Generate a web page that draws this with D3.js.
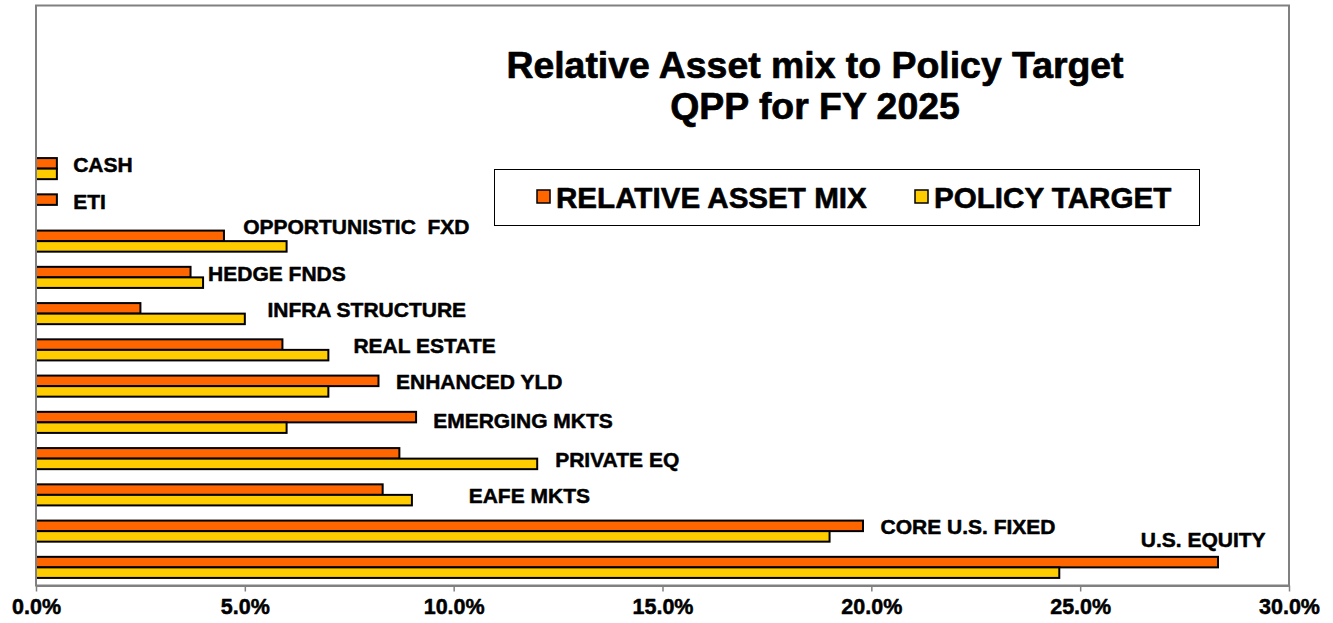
<!DOCTYPE html>
<html>
<head>
<meta charset="utf-8">
<script src="https://cdn.jsdelivr.net/npm/d3@7"></script>
<style>
  html, body { margin: 0; padding: 0; background: #fff; }
  svg { display: block; font-family: "Liberation Sans", Arial, sans-serif; font-weight: bold; }
  .heavy { stroke: #000; stroke-linejoin: round; paint-order: stroke; }
</style>
</head>
<body>
<svg id="chart" width="1333" height="623"></svg>
<script>
// Asset classes, bottom to top
const categories = ["U.S. EQUITY", "CORE U.S. FIXED", "EAFE MKTS", "PRIVATE EQ", "EMERGING MKTS",
  "ENHANCED YLD", "REAL ESTATE", "INFRA STRUCTURE", "HEDGE FNDS", "OPPORTUNISTIC  FXD", "ETI", "CASH"];
// Percent of fund
const relativeMix  = [28.3, 19.8, 8.3, 8.7, 9.1, 8.2, 5.9, 2.5, 3.7, 4.5, 0.5, 0.5];
const policyTarget = [24.5, 19.0, 9.0, 12.0, 6.0, 7.0, 7.0, 5.0, 4.0, 6.0, 0.0, 0.5];
const seriesNames  = ["RELATIVE ASSET MIX", "POLICY TARGET"];
const xTicks = [0, 5, 10, 15, 20, 25, 30];
const titleLines = ["Relative Asset mix to Policy Target", "QPP for FY 2025"];

// Category label placement: x in percent units, vertical nudge in px
const labelAt = [26.45, 20.22, 10.36, 12.43, 9.51, 8.62, 7.60, 5.54, 4.12, 4.96, 0.89, 0.89];
const labelDy = [-28, -4.4, 0.9, 0.4, -1.9, -4.9, -4.1, -4.4, -3.7, -14.4, -3.6, -4.1];

const colors = { "RELATIVE ASSET MIX": "#FF6600", "POLICY TARGET": "#FFCC00" };

const svg = d3.select("#chart");
const plot = { left: 36, right: 1289, top: 5.5, bottom: 585.5 };
const slotCount = 16; // category axis has room for 16 slots; the top ones stay empty

const x = d3.scaleLinear().domain([0, 30]).range([plot.left, plot.right]);
const step = (plot.bottom - plot.top) / slotCount;
const y = d3.scaleBand()
  .domain(categories)
  .range([plot.bottom, plot.bottom - step * categories.length])
  .padding(0);
const ySub = d3.scaleBand()
  .domain(seriesNames)
  .range([0, y.bandwidth()])
  .paddingInner(0)
  .paddingOuter(0.72);

const rows = categories.map((c, i) => ({
  cat: c,
  values: [
    { series: seriesNames[0], value: relativeMix[i] },
    { series: seriesNames[1], value: policyTarget[i] }
  ],
  labelAt: labelAt[i],
  labelDy: labelDy[i]
}));

// Plot area frame
svg.append("rect")
  .attr("x", plot.left).attr("y", plot.top)
  .attr("width", plot.right - plot.left).attr("height", plot.bottom - plot.top)
  .attr("fill", "none").attr("stroke", "#808080").attr("stroke-width", 2);

// Bars
const groups = svg.append("g").selectAll("g")
  .data(rows).join("g")
  .attr("transform", d => `translate(0,${y(d.cat)})`);

groups.selectAll("rect")
  .data(d => d.values.filter(v => v.value > 0))
  .join("rect")
  .attr("x", x(0))
  .attr("y", v => ySub(v.series))
  .attr("width", v => x(v.value) - x(0))
  .attr("height", ySub.bandwidth())
  .attr("fill", v => colors[v.series])
  .attr("stroke", "#000")
  .attr("stroke-width", 2);

// Category labels
svg.append("g").selectAll("text")
  .data(rows).join("text")
  .attr("class", "heavy")
  .attr("stroke-width", 0.5)
  .attr("x", d => x(d.labelAt))
  .attr("y", d => y(d.cat) + y.bandwidth() / 2 + d.labelDy)
  .attr("dominant-baseline", "central")
  .style("white-space", "pre")
  .attr("font-size", 21)
  .attr("fill", "#000")
  .text(d => d.cat);

// X axis
const xAxis = svg.append("g")
  .attr("transform", `translate(0,${plot.bottom})`)
  .call(d3.axisBottom(x).tickValues(xTicks).tickFormat(d => d.toFixed(1) + "%").tickSize(6).tickSizeOuter(0));
xAxis.select(".domain").attr("stroke", "#808080").attr("stroke-width", 2);
xAxis.selectAll(".tick line").attr("stroke", "#808080").attr("stroke-width", 1.5);
xAxis.selectAll(".tick text")
  .attr("class", "heavy")
  .attr("stroke-width", 0.5)
  .attr("font-family", "Liberation Sans, Arial, sans-serif")
  .attr("font-weight", "bold")
  .attr("font-size", 21.5)
  .attr("fill", "#000")
  .attr("y", 13);

// Left axis line
svg.append("line")
  .attr("x1", plot.left).attr("x2", plot.left)
  .attr("y1", plot.top).attr("y2", plot.bottom)
  .attr("stroke", "#808080").attr("stroke-width", 2);

// Title
svg.append("g").selectAll("text")
  .data(titleLines).join("text")
  .attr("class", "heavy")
  .attr("stroke-width", 0.7)
  .attr("x", 815)
  .attr("y", (d, i) => 77.5 + i * 41.5)
  .attr("text-anchor", "middle")
  .attr("font-size", 37.4)
  .attr("fill", "#000")
  .text(d => d);

// Legend
const legend = svg.append("g");
legend.append("rect")
  .attr("x", 494.5).attr("y", 169.5).attr("width", 705).attr("height", 56)
  .attr("fill", "#fff").attr("stroke", "#000").attr("stroke-width", 1);
const legendX = [537, 915];
const items = legend.selectAll("g.item")
  .data(seriesNames).join("g")
  .attr("class", "item")
  .attr("transform", (d, i) => `translate(${legendX[i]},197)`);
items.append("rect")
  .attr("x", 0).attr("y", -7).attr("width", 13).attr("height", 13)
  .attr("fill", d => colors[d]).attr("stroke", "#000").attr("stroke-width", 1.5);
items.append("text")
  .attr("class", "heavy")
  .attr("stroke-width", 0.6)
  .attr("x", 19).attr("y", 0)
  .attr("dominant-baseline", "central")
  .attr("font-size", 29.6)
  .attr("fill", "#000")
  .text(d => d);
</script>
</body>
</html>
